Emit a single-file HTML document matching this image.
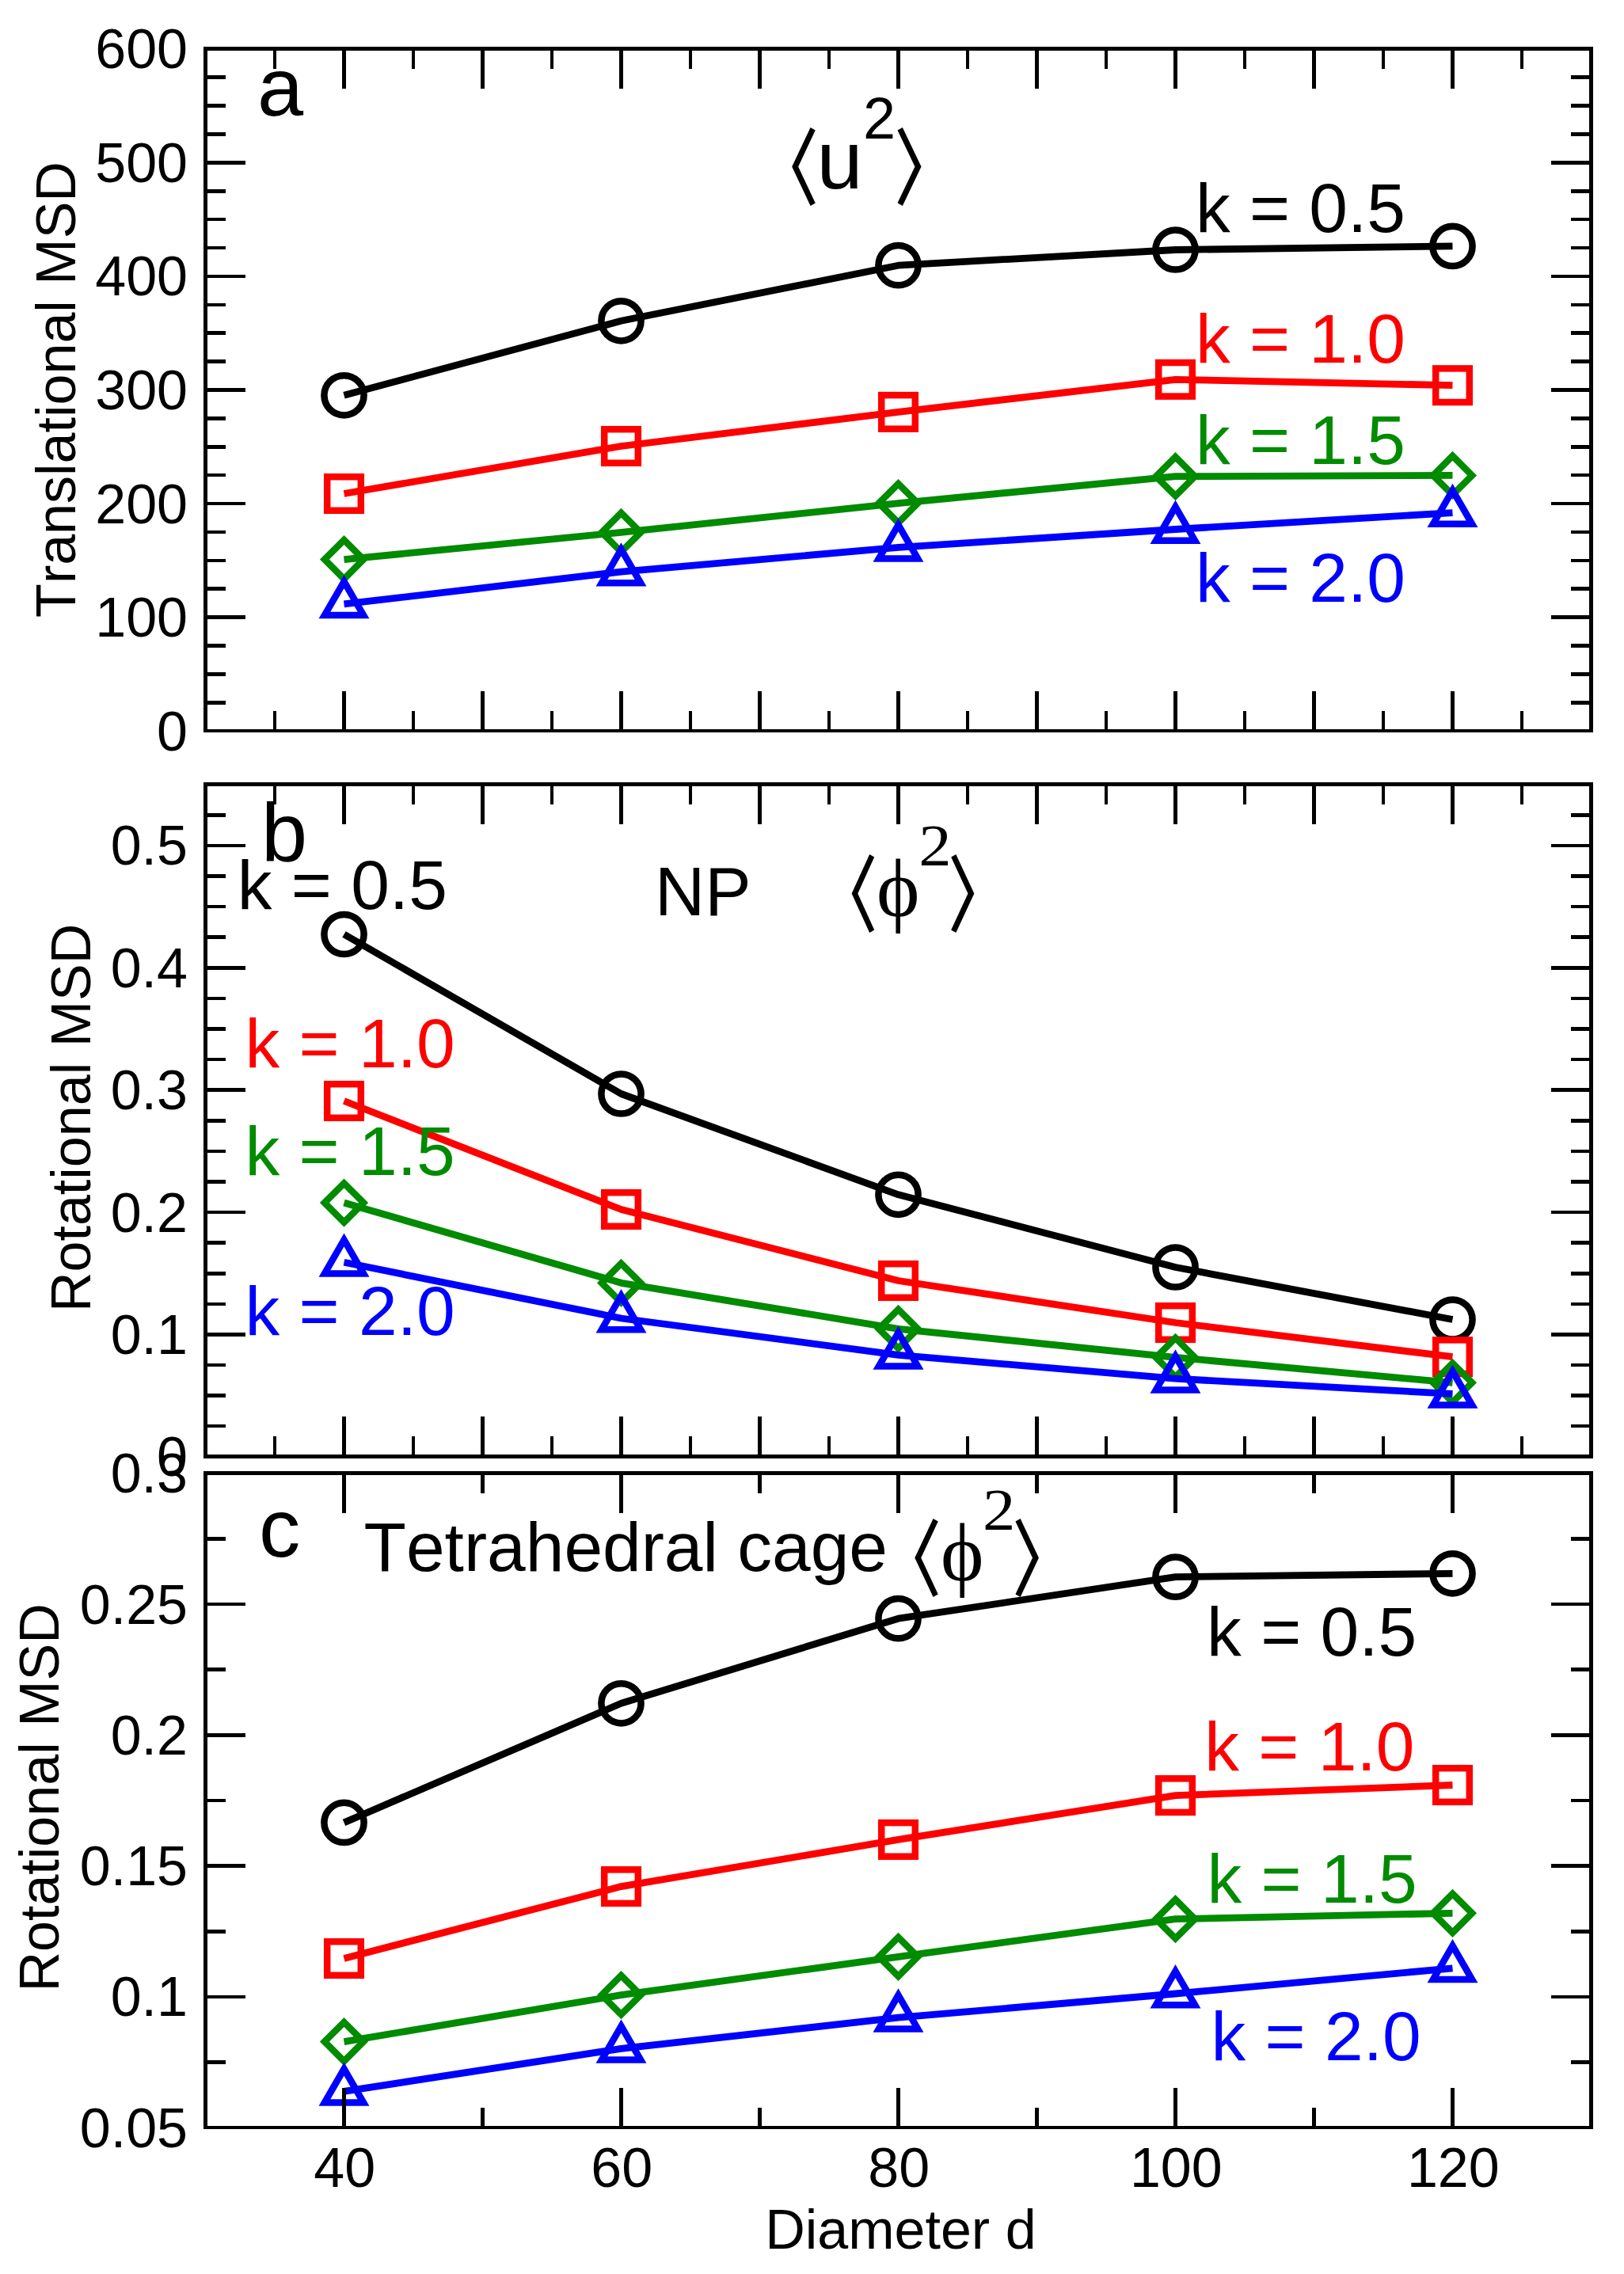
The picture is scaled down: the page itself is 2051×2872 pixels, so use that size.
<!DOCTYPE html>
<html lang="en"><head><meta charset="utf-8"><title>MSD versus diameter</title>
<style>html,body{margin:0;padding:0;background:#fff}svg{display:block}text{font-family:"Liberation Sans",sans-serif;font-kerning:none;font-variant-ligatures:none}.t{font-size:70px}.m{font-size:87.5px}.l{font-size:104.5px}.sy{font-family:"Liberation Serif","DejaVu Serif",serif}.br{font-family:"Noto Sans CJK SC","DejaVu Sans",sans-serif;font-weight:500}.ln{fill:none;stroke-width:8.8;stroke-linejoin:round;stroke-linecap:butt}.sm{fill:none;stroke-width:8.5;stroke-linejoin:miter;stroke-miterlimit:10}.ax{fill:#000;shape-rendering:crispEdges}</style></head><body>
<svg width="2051" height="2872" viewBox="0 0 2051 2872">
<rect width="2051" height="2872" fill="#fff"/>
<g id="panel-a">
<polyline points="434.5,499.3 784.5,405.3 1134.5,335.2 1484.5,315.5 1834.5,310.9" class="ln" stroke="#000"/>
<circle cx="434.5" cy="499.3" r="25.1" class="sm" stroke="#000"/>
<circle cx="784.5" cy="405.3" r="25.1" class="sm" stroke="#000"/>
<circle cx="1134.5" cy="335.2" r="25.1" class="sm" stroke="#000"/>
<circle cx="1484.5" cy="315.5" r="25.1" class="sm" stroke="#000"/>
<circle cx="1834.5" cy="310.9" r="25.1" class="sm" stroke="#000"/>
<polyline points="434.5,623.5 784.5,563.5 1134.5,520.4 1484.5,479.3 1834.5,486.7" class="ln" stroke="#f00"/>
<rect x="413.2" y="602.2" width="42.6" height="42.6" class="sm" stroke="#f00"/>
<rect x="763.2" y="542.2" width="42.6" height="42.6" class="sm" stroke="#f00"/>
<rect x="1113.2" y="499.1" width="42.6" height="42.6" class="sm" stroke="#f00"/>
<rect x="1463.2" y="458.0" width="42.6" height="42.6" class="sm" stroke="#f00"/>
<rect x="1813.2" y="465.4" width="42.6" height="42.6" class="sm" stroke="#f00"/>
<polyline points="434.5,706.6 784.5,672.4 1134.5,635.6 1484.5,601.7 1834.5,600.4" class="ln" stroke="#008b00"/>
<path d="M434.5 682.0L459.1 706.6L434.5 731.2L409.9 706.6Z" class="sm" stroke="#008b00"/>
<path d="M784.5 647.8L809.1 672.4L784.5 697.0L759.9 672.4Z" class="sm" stroke="#008b00"/>
<path d="M1134.5 611.0L1159.1 635.6L1134.5 660.2L1109.9 635.6Z" class="sm" stroke="#008b00"/>
<path d="M1484.5 577.1L1509.1 601.7L1484.5 626.3L1459.9 601.7Z" class="sm" stroke="#008b00"/>
<path d="M1834.5 575.8L1859.1 600.4L1834.5 625.0L1809.9 600.4Z" class="sm" stroke="#008b00"/>
<polyline points="434.5,762.9 784.5,722.1 1134.5,691.3 1484.5,668.5 1834.5,647.6" class="ln" stroke="#00f"/>
<path d="M434.5 734.5L459.1 777.1L409.9 777.1Z" class="sm" stroke="#00f"/>
<path d="M784.5 693.7L809.1 736.3L759.9 736.3Z" class="sm" stroke="#00f"/>
<path d="M1134.5 662.9L1159.1 705.5L1109.9 705.5Z" class="sm" stroke="#00f"/>
<path d="M1484.5 640.1L1509.1 682.7L1459.9 682.7Z" class="sm" stroke="#00f"/>
<path d="M1834.5 619.2L1859.1 661.8L1809.9 661.8Z" class="sm" stroke="#00f"/>
<g class="ax">
<rect x="257" y="59" width="1755" height="5"/>
<rect x="257" y="921" width="1755" height="4"/>
<rect x="257" y="59" width="5" height="866"/>
<rect x="2007" y="59" width="5" height="866"/>
<rect x="432.2" y="61.5" width="4.6" height="50.5"/>
<rect x="432.2" y="872.5" width="4.6" height="50.5"/>
<rect x="607.2" y="61.5" width="4.6" height="50.5"/>
<rect x="607.2" y="872.5" width="4.6" height="50.5"/>
<rect x="782.2" y="61.5" width="4.6" height="50.5"/>
<rect x="782.2" y="872.5" width="4.6" height="50.5"/>
<rect x="957.2" y="61.5" width="4.6" height="50.5"/>
<rect x="957.2" y="872.5" width="4.6" height="50.5"/>
<rect x="1132.2" y="61.5" width="4.6" height="50.5"/>
<rect x="1132.2" y="872.5" width="4.6" height="50.5"/>
<rect x="1307.2" y="61.5" width="4.6" height="50.5"/>
<rect x="1307.2" y="872.5" width="4.6" height="50.5"/>
<rect x="1482.2" y="61.5" width="4.6" height="50.5"/>
<rect x="1482.2" y="872.5" width="4.6" height="50.5"/>
<rect x="1657.2" y="61.5" width="4.6" height="50.5"/>
<rect x="1657.2" y="872.5" width="4.6" height="50.5"/>
<rect x="1832.2" y="61.5" width="4.6" height="50.5"/>
<rect x="1832.2" y="872.5" width="4.6" height="50.5"/>
<rect x="344.7" y="61.5" width="4.6" height="25.5"/>
<rect x="344.7" y="897.5" width="4.6" height="25.5"/>
<rect x="519.7" y="61.5" width="4.6" height="25.5"/>
<rect x="519.7" y="897.5" width="4.6" height="25.5"/>
<rect x="694.7" y="61.5" width="4.6" height="25.5"/>
<rect x="694.7" y="897.5" width="4.6" height="25.5"/>
<rect x="869.7" y="61.5" width="4.6" height="25.5"/>
<rect x="869.7" y="897.5" width="4.6" height="25.5"/>
<rect x="1044.7" y="61.5" width="4.6" height="25.5"/>
<rect x="1044.7" y="897.5" width="4.6" height="25.5"/>
<rect x="1219.7" y="61.5" width="4.6" height="25.5"/>
<rect x="1219.7" y="897.5" width="4.6" height="25.5"/>
<rect x="1394.7" y="61.5" width="4.6" height="25.5"/>
<rect x="1394.7" y="897.5" width="4.6" height="25.5"/>
<rect x="1569.7" y="61.5" width="4.6" height="25.5"/>
<rect x="1569.7" y="897.5" width="4.6" height="25.5"/>
<rect x="1744.7" y="61.5" width="4.6" height="25.5"/>
<rect x="1744.7" y="897.5" width="4.6" height="25.5"/>
<rect x="1919.7" y="61.5" width="4.6" height="25.5"/>
<rect x="1919.7" y="897.5" width="4.6" height="25.5"/>
<rect x="259.5" y="777.37" width="50.5" height="4.6"/>
<rect x="1959" y="777.37" width="50.5" height="4.6"/>
<rect x="259.5" y="633.78" width="50.5" height="4.6"/>
<rect x="1959" y="633.78" width="50.5" height="4.6"/>
<rect x="259.5" y="490.2" width="50.5" height="4.6"/>
<rect x="1959" y="490.2" width="50.5" height="4.6"/>
<rect x="259.5" y="346.62" width="50.5" height="4.6"/>
<rect x="1959" y="346.62" width="50.5" height="4.6"/>
<rect x="259.5" y="203.03" width="50.5" height="4.6"/>
<rect x="1959" y="203.03" width="50.5" height="4.6"/>
<rect x="259.5" y="885.05" width="25.5" height="4.6"/>
<rect x="1984" y="885.05" width="25.5" height="4.6"/>
<rect x="259.5" y="849.16" width="25.5" height="4.6"/>
<rect x="1984" y="849.16" width="25.5" height="4.6"/>
<rect x="259.5" y="813.26" width="25.5" height="4.6"/>
<rect x="1984" y="813.26" width="25.5" height="4.6"/>
<rect x="259.5" y="741.47" width="25.5" height="4.6"/>
<rect x="1984" y="741.47" width="25.5" height="4.6"/>
<rect x="259.5" y="705.58" width="25.5" height="4.6"/>
<rect x="1984" y="705.58" width="25.5" height="4.6"/>
<rect x="259.5" y="669.68" width="25.5" height="4.6"/>
<rect x="1984" y="669.68" width="25.5" height="4.6"/>
<rect x="259.5" y="597.89" width="25.5" height="4.6"/>
<rect x="1984" y="597.89" width="25.5" height="4.6"/>
<rect x="259.5" y="561.99" width="25.5" height="4.6"/>
<rect x="1984" y="561.99" width="25.5" height="4.6"/>
<rect x="259.5" y="526.1" width="25.5" height="4.6"/>
<rect x="1984" y="526.1" width="25.5" height="4.6"/>
<rect x="259.5" y="454.3" width="25.5" height="4.6"/>
<rect x="1984" y="454.3" width="25.5" height="4.6"/>
<rect x="259.5" y="418.41" width="25.5" height="4.6"/>
<rect x="1984" y="418.41" width="25.5" height="4.6"/>
<rect x="259.5" y="382.51" width="25.5" height="4.6"/>
<rect x="1984" y="382.51" width="25.5" height="4.6"/>
<rect x="259.5" y="310.72" width="25.5" height="4.6"/>
<rect x="1984" y="310.72" width="25.5" height="4.6"/>
<rect x="259.5" y="274.82" width="25.5" height="4.6"/>
<rect x="1984" y="274.82" width="25.5" height="4.6"/>
<rect x="259.5" y="238.93" width="25.5" height="4.6"/>
<rect x="1984" y="238.93" width="25.5" height="4.6"/>
<rect x="259.5" y="167.14" width="25.5" height="4.6"/>
<rect x="1984" y="167.14" width="25.5" height="4.6"/>
<rect x="259.5" y="131.24" width="25.5" height="4.6"/>
<rect x="1984" y="131.24" width="25.5" height="4.6"/>
<rect x="259.5" y="95.35" width="25.5" height="4.6"/>
<rect x="1984" y="95.35" width="25.5" height="4.6"/>
</g>
<text class="t" x="237" y="947.7" text-anchor="end">0</text>
<text class="t" x="237" y="804.1" text-anchor="end">100</text>
<text class="t" x="237" y="660.5" text-anchor="end">200</text>
<text class="t" x="237" y="517.0" text-anchor="end">300</text>
<text class="t" x="237" y="373.4" text-anchor="end">400</text>
<text class="t" x="237" y="229.8" text-anchor="end">500</text>
<text class="t" x="237" y="86.2" text-anchor="end">600</text>
</g>
<g id="panel-b">
<polyline points="434.5,1180.0 784.5,1381.5 1134.5,1508.8 1484.5,1600.5 1834.5,1666.5" class="ln" stroke="#000"/>
<circle cx="434.5" cy="1180.0" r="25.1" class="sm" stroke="#000"/>
<circle cx="784.5" cy="1381.5" r="25.1" class="sm" stroke="#000"/>
<circle cx="1134.5" cy="1508.8" r="25.1" class="sm" stroke="#000"/>
<circle cx="1484.5" cy="1600.5" r="25.1" class="sm" stroke="#000"/>
<circle cx="1834.5" cy="1666.5" r="25.1" class="sm" stroke="#000"/>
<polyline points="434.5,1390.5 784.5,1527.5 1134.5,1617.5 1484.5,1670.5 1834.5,1713.7" class="ln" stroke="#f00"/>
<rect x="413.2" y="1369.2" width="42.6" height="42.6" class="sm" stroke="#f00"/>
<rect x="763.2" y="1506.2" width="42.6" height="42.6" class="sm" stroke="#f00"/>
<rect x="1113.2" y="1596.2" width="42.6" height="42.6" class="sm" stroke="#f00"/>
<rect x="1463.2" y="1649.2" width="42.6" height="42.6" class="sm" stroke="#f00"/>
<rect x="1813.2" y="1692.4" width="42.6" height="42.6" class="sm" stroke="#f00"/>
<polyline points="434.5,1519.1 784.5,1620.3 1134.5,1678.3 1484.5,1714.4 1834.5,1746.3" class="ln" stroke="#008b00"/>
<path d="M434.5 1494.5L459.1 1519.1L434.5 1543.7L409.9 1519.1Z" class="sm" stroke="#008b00"/>
<path d="M784.5 1595.7L809.1 1620.3L784.5 1644.9L759.9 1620.3Z" class="sm" stroke="#008b00"/>
<path d="M1134.5 1653.7L1159.1 1678.3L1134.5 1702.9L1109.9 1678.3Z" class="sm" stroke="#008b00"/>
<path d="M1484.5 1689.8L1509.1 1714.4L1484.5 1739.0L1459.9 1714.4Z" class="sm" stroke="#008b00"/>
<path d="M1834.5 1721.7L1859.1 1746.3L1834.5 1770.9L1809.9 1746.3Z" class="sm" stroke="#008b00"/>
<polyline points="434.5,1594.3 784.5,1665.0 1134.5,1711.3 1484.5,1741.2 1834.5,1760.4" class="ln" stroke="#00f"/>
<path d="M434.5 1565.9L459.1 1608.5L409.9 1608.5Z" class="sm" stroke="#00f"/>
<path d="M784.5 1636.6L809.1 1679.2L759.9 1679.2Z" class="sm" stroke="#00f"/>
<path d="M1134.5 1682.9L1159.1 1725.5L1109.9 1725.5Z" class="sm" stroke="#00f"/>
<path d="M1484.5 1712.8L1509.1 1755.4L1459.9 1755.4Z" class="sm" stroke="#00f"/>
<path d="M1834.5 1732.0L1859.1 1774.6L1809.9 1774.6Z" class="sm" stroke="#00f"/>
<g class="ax">
<rect x="257" y="988" width="1755" height="5"/>
<rect x="257" y="1837" width="1755" height="5"/>
<rect x="257" y="988" width="5" height="854"/>
<rect x="2007" y="988" width="5" height="854"/>
<rect x="432.2" y="990.5" width="4.6" height="50.5"/>
<rect x="432.2" y="1789" width="4.6" height="50.5"/>
<rect x="607.2" y="990.5" width="4.6" height="50.5"/>
<rect x="607.2" y="1789" width="4.6" height="50.5"/>
<rect x="782.2" y="990.5" width="4.6" height="50.5"/>
<rect x="782.2" y="1789" width="4.6" height="50.5"/>
<rect x="957.2" y="990.5" width="4.6" height="50.5"/>
<rect x="957.2" y="1789" width="4.6" height="50.5"/>
<rect x="1132.2" y="990.5" width="4.6" height="50.5"/>
<rect x="1132.2" y="1789" width="4.6" height="50.5"/>
<rect x="1307.2" y="990.5" width="4.6" height="50.5"/>
<rect x="1307.2" y="1789" width="4.6" height="50.5"/>
<rect x="1482.2" y="990.5" width="4.6" height="50.5"/>
<rect x="1482.2" y="1789" width="4.6" height="50.5"/>
<rect x="1657.2" y="990.5" width="4.6" height="50.5"/>
<rect x="1657.2" y="1789" width="4.6" height="50.5"/>
<rect x="1832.2" y="990.5" width="4.6" height="50.5"/>
<rect x="1832.2" y="1789" width="4.6" height="50.5"/>
<rect x="344.7" y="990.5" width="4.6" height="25.5"/>
<rect x="344.7" y="1814" width="4.6" height="25.5"/>
<rect x="519.7" y="990.5" width="4.6" height="25.5"/>
<rect x="519.7" y="1814" width="4.6" height="25.5"/>
<rect x="694.7" y="990.5" width="4.6" height="25.5"/>
<rect x="694.7" y="1814" width="4.6" height="25.5"/>
<rect x="869.7" y="990.5" width="4.6" height="25.5"/>
<rect x="869.7" y="1814" width="4.6" height="25.5"/>
<rect x="1044.7" y="990.5" width="4.6" height="25.5"/>
<rect x="1044.7" y="1814" width="4.6" height="25.5"/>
<rect x="1219.7" y="990.5" width="4.6" height="25.5"/>
<rect x="1219.7" y="1814" width="4.6" height="25.5"/>
<rect x="1394.7" y="990.5" width="4.6" height="25.5"/>
<rect x="1394.7" y="1814" width="4.6" height="25.5"/>
<rect x="1569.7" y="990.5" width="4.6" height="25.5"/>
<rect x="1569.7" y="1814" width="4.6" height="25.5"/>
<rect x="1744.7" y="990.5" width="4.6" height="25.5"/>
<rect x="1744.7" y="1814" width="4.6" height="25.5"/>
<rect x="1919.7" y="990.5" width="4.6" height="25.5"/>
<rect x="1919.7" y="1814" width="4.6" height="25.5"/>
<rect x="259.5" y="1683.09" width="50.5" height="4.6"/>
<rect x="1959" y="1683.09" width="50.5" height="4.6"/>
<rect x="259.5" y="1528.72" width="50.5" height="4.6"/>
<rect x="1959" y="1528.72" width="50.5" height="4.6"/>
<rect x="259.5" y="1374.36" width="50.5" height="4.6"/>
<rect x="1959" y="1374.36" width="50.5" height="4.6"/>
<rect x="259.5" y="1220" width="50.5" height="4.6"/>
<rect x="1959" y="1220" width="50.5" height="4.6"/>
<rect x="259.5" y="1065.63" width="50.5" height="4.6"/>
<rect x="1959" y="1065.63" width="50.5" height="4.6"/>
<rect x="259.5" y="1798.86" width="25.5" height="4.6"/>
<rect x="1984" y="1798.86" width="25.5" height="4.6"/>
<rect x="259.5" y="1760.27" width="25.5" height="4.6"/>
<rect x="1984" y="1760.27" width="25.5" height="4.6"/>
<rect x="259.5" y="1721.68" width="25.5" height="4.6"/>
<rect x="1984" y="1721.68" width="25.5" height="4.6"/>
<rect x="259.5" y="1644.5" width="25.5" height="4.6"/>
<rect x="1984" y="1644.5" width="25.5" height="4.6"/>
<rect x="259.5" y="1605.9" width="25.5" height="4.6"/>
<rect x="1984" y="1605.9" width="25.5" height="4.6"/>
<rect x="259.5" y="1567.31" width="25.5" height="4.6"/>
<rect x="1984" y="1567.31" width="25.5" height="4.6"/>
<rect x="259.5" y="1490.13" width="25.5" height="4.6"/>
<rect x="1984" y="1490.13" width="25.5" height="4.6"/>
<rect x="259.5" y="1451.54" width="25.5" height="4.6"/>
<rect x="1984" y="1451.54" width="25.5" height="4.6"/>
<rect x="259.5" y="1412.95" width="25.5" height="4.6"/>
<rect x="1984" y="1412.95" width="25.5" height="4.6"/>
<rect x="259.5" y="1335.77" width="25.5" height="4.6"/>
<rect x="1984" y="1335.77" width="25.5" height="4.6"/>
<rect x="259.5" y="1297.18" width="25.5" height="4.6"/>
<rect x="1984" y="1297.18" width="25.5" height="4.6"/>
<rect x="259.5" y="1258.59" width="25.5" height="4.6"/>
<rect x="1984" y="1258.59" width="25.5" height="4.6"/>
<rect x="259.5" y="1181.4" width="25.5" height="4.6"/>
<rect x="1984" y="1181.4" width="25.5" height="4.6"/>
<rect x="259.5" y="1142.81" width="25.5" height="4.6"/>
<rect x="1984" y="1142.81" width="25.5" height="4.6"/>
<rect x="259.5" y="1104.22" width="25.5" height="4.6"/>
<rect x="1984" y="1104.22" width="25.5" height="4.6"/>
<rect x="259.5" y="1027.04" width="25.5" height="4.6"/>
<rect x="1984" y="1027.04" width="25.5" height="4.6"/>
</g>
<text class="t" x="237" y="1864.2" text-anchor="end">0</text>
<text class="t" x="237" y="1709.8" text-anchor="end">0.1</text>
<text class="t" x="237" y="1555.5" text-anchor="end">0.2</text>
<text class="t" x="237" y="1401.1" text-anchor="end">0.3</text>
<text class="t" x="237" y="1246.7" text-anchor="end">0.4</text>
<text class="t" x="237" y="1092.4" text-anchor="end">0.5</text>
</g>
<g id="panel-c">
<polyline points="434.5,2301.9 784.5,2151.3 1134.5,2044.2 1484.5,1991.7 1834.5,1987.3" class="ln" stroke="#000"/>
<circle cx="434.5" cy="2301.9" r="25.1" class="sm" stroke="#000"/>
<circle cx="784.5" cy="2151.3" r="25.1" class="sm" stroke="#000"/>
<circle cx="1134.5" cy="2044.2" r="25.1" class="sm" stroke="#000"/>
<circle cx="1484.5" cy="1991.7" r="25.1" class="sm" stroke="#000"/>
<circle cx="1834.5" cy="1987.3" r="25.1" class="sm" stroke="#000"/>
<polyline points="434.5,2473.5 784.5,2382.6 1134.5,2323.4 1484.5,2267.6 1834.5,2254.5" class="ln" stroke="#f00"/>
<rect x="413.2" y="2452.2" width="42.6" height="42.6" class="sm" stroke="#f00"/>
<rect x="763.2" y="2361.3" width="42.6" height="42.6" class="sm" stroke="#f00"/>
<rect x="1113.2" y="2302.1" width="42.6" height="42.6" class="sm" stroke="#f00"/>
<rect x="1463.2" y="2246.3" width="42.6" height="42.6" class="sm" stroke="#f00"/>
<rect x="1813.2" y="2233.2" width="42.6" height="42.6" class="sm" stroke="#f00"/>
<polyline points="434.5,2578.6 784.5,2519.7 1134.5,2471.3 1484.5,2423.7 1834.5,2416.3" class="ln" stroke="#008b00"/>
<path d="M434.5 2554.0L459.1 2578.6L434.5 2603.2L409.9 2578.6Z" class="sm" stroke="#008b00"/>
<path d="M784.5 2495.1L809.1 2519.7L784.5 2544.3L759.9 2519.7Z" class="sm" stroke="#008b00"/>
<path d="M1134.5 2446.7L1159.1 2471.3L1134.5 2495.9L1109.9 2471.3Z" class="sm" stroke="#008b00"/>
<path d="M1484.5 2399.1L1509.1 2423.7L1484.5 2448.3L1459.9 2423.7Z" class="sm" stroke="#008b00"/>
<path d="M1834.5 2391.7L1859.1 2416.3L1834.5 2440.9L1809.9 2416.3Z" class="sm" stroke="#008b00"/>
<polyline points="434.5,2641.4 784.5,2587.4 1134.5,2548.2 1484.5,2518.0 1834.5,2485.8" class="ln" stroke="#00f"/>
<path d="M434.5 2613.0L459.1 2655.6L409.9 2655.6Z" class="sm" stroke="#00f"/>
<path d="M784.5 2559.0L809.1 2601.6L759.9 2601.6Z" class="sm" stroke="#00f"/>
<path d="M1134.5 2519.8L1159.1 2562.4L1109.9 2562.4Z" class="sm" stroke="#00f"/>
<path d="M1484.5 2489.6L1509.1 2532.2L1459.9 2532.2Z" class="sm" stroke="#00f"/>
<path d="M1834.5 2457.4L1859.1 2500.0L1809.9 2500.0Z" class="sm" stroke="#00f"/>
<g class="ax">
<rect x="257" y="1858" width="1755" height="5"/>
<rect x="257" y="2685" width="1755" height="4"/>
<rect x="257" y="1858" width="5" height="831"/>
<rect x="2007" y="1858" width="5" height="831"/>
<rect x="432.2" y="1860.5" width="4.6" height="50.5"/>
<rect x="432.2" y="2636.5" width="4.6" height="50.5"/>
<rect x="782.2" y="1860.5" width="4.6" height="50.5"/>
<rect x="782.2" y="2636.5" width="4.6" height="50.5"/>
<rect x="1132.2" y="1860.5" width="4.6" height="50.5"/>
<rect x="1132.2" y="2636.5" width="4.6" height="50.5"/>
<rect x="1482.2" y="1860.5" width="4.6" height="50.5"/>
<rect x="1482.2" y="2636.5" width="4.6" height="50.5"/>
<rect x="1832.2" y="1860.5" width="4.6" height="50.5"/>
<rect x="1832.2" y="2636.5" width="4.6" height="50.5"/>
<rect x="607.2" y="1860.5" width="4.6" height="25.5"/>
<rect x="607.2" y="2661.5" width="4.6" height="25.5"/>
<rect x="957.2" y="1860.5" width="4.6" height="25.5"/>
<rect x="957.2" y="2661.5" width="4.6" height="25.5"/>
<rect x="1307.2" y="1860.5" width="4.6" height="25.5"/>
<rect x="1307.2" y="2661.5" width="4.6" height="25.5"/>
<rect x="1657.2" y="1860.5" width="4.6" height="25.5"/>
<rect x="1657.2" y="2661.5" width="4.6" height="25.5"/>
<rect x="259.5" y="2519.65" width="50.5" height="4.6"/>
<rect x="1959" y="2519.65" width="50.5" height="4.6"/>
<rect x="259.5" y="2354.35" width="50.5" height="4.6"/>
<rect x="1959" y="2354.35" width="50.5" height="4.6"/>
<rect x="259.5" y="2189.05" width="50.5" height="4.6"/>
<rect x="1959" y="2189.05" width="50.5" height="4.6"/>
<rect x="259.5" y="2023.75" width="50.5" height="4.6"/>
<rect x="1959" y="2023.75" width="50.5" height="4.6"/>
<rect x="259.5" y="2602.3" width="25.5" height="4.6"/>
<rect x="1984" y="2602.3" width="25.5" height="4.6"/>
<rect x="259.5" y="2437" width="25.5" height="4.6"/>
<rect x="1984" y="2437" width="25.5" height="4.6"/>
<rect x="259.5" y="2271.7" width="25.5" height="4.6"/>
<rect x="1984" y="2271.7" width="25.5" height="4.6"/>
<rect x="259.5" y="2106.4" width="25.5" height="4.6"/>
<rect x="1984" y="2106.4" width="25.5" height="4.6"/>
<rect x="259.5" y="1941.1" width="25.5" height="4.6"/>
<rect x="1984" y="1941.1" width="25.5" height="4.6"/>
</g>
<text class="t" x="237" y="2711.7" text-anchor="end">0.05</text>
<text class="t" x="237" y="2546.4" text-anchor="end">0.1</text>
<text class="t" x="237" y="2381.1" text-anchor="end">0.15</text>
<text class="t" x="237" y="2215.8" text-anchor="end">0.2</text>
<text class="t" x="237" y="2050.5" text-anchor="end">0.25</text>
<text class="t" x="237" y="1885.2" text-anchor="end">0.3</text>
</g>
<text class="t" x="435.3" y="2762.3" text-anchor="middle">40</text>
<text class="t" x="785.3" y="2762.3" text-anchor="middle">60</text>
<text class="t" x="1135.3" y="2762.3" text-anchor="middle">80</text>
<text class="t" x="1485.3" y="2762.3" text-anchor="middle">100</text>
<text class="t" x="1835.3" y="2762.3" text-anchor="middle">120</text>
<text class="t" x="1137.4" y="2840.1" text-anchor="middle">Diameter d</text>
<text class="t" transform="translate(95.0 492.0) rotate(-90)" text-anchor="middle">Translational MSD</text>
<text class="t" transform="translate(113.5 1411.9) rotate(-90)" text-anchor="middle">Rotational MSD</text>
<text class="t" transform="translate(74.4 2270.4) rotate(-90)" text-anchor="middle">Rotational MSD</text>
<text class="l" x="325.0" y="146.2">a</text>
<text class="m" x="1509.9" y="293.3" fill="#000">k = 0.5</text>
<text class="m" x="1509.9" y="458.3" fill="#f00">k = 1.0</text>
<text class="m" x="1509.9" y="586.0" fill="#008b00">k = 1.5</text>
<text class="m" x="1509.9" y="760.0" fill="#00f">k = 2.0</text>
<text class="l" x="330.0" y="1086.8">b</text>
<text class="m" x="299.7" y="1148.3" fill="#000">k = 0.5</text>
<text class="m" x="309.5" y="1348.4" fill="#f00">k = 1.0</text>
<text class="m" x="309.5" y="1483.7" fill="#008b00">k = 1.5</text>
<text class="m" x="309.5" y="1685.6" fill="#00f">k = 2.0</text>
<text class="m" x="827.0" y="1156.4">NP</text>
<text class="l" x="327.0" y="1965.5">c</text>
<text class="m" x="459.5" y="1984.2">Tetrahedral cage</text>
<text class="m" x="1524.1" y="2090.5" fill="#000">k = 0.5</text>
<text class="m" x="1521.3" y="2236.4" fill="#f00">k = 1.0</text>
<text class="m" x="1524.5" y="2403.3" fill="#008b00">k = 1.5</text>
<text class="m" x="1529.5" y="2602.3" fill="#00f">k = 2.0</text>
<text class="br" font-size="100" transform="matrix(0.7978 0 0 1.0577 954.24 249.59)">〈</text>
<text class="l" x="1031.5" y="237.9">u</text>
<text x="1090" y="175.1" font-size="73.9">2</text>
<text class="br" font-size="100" transform="matrix(0.8086 0 0 1.0577 1129.21 249.59)">〉</text>
<text class="br" font-size="100" transform="matrix(0.7709 0 0 1.0588 1031.20 1167.68)">〈</text>
<text class="sy" x="1106.9" y="1156.6" font-size="103.5">ϕ</text>
<text class="sy" transform="translate(1160.3 1093) scale(1.12 1)" font-size="73.9">2</text>
<text class="br" font-size="100" transform="matrix(0.7871 0 0 1.0588 1197.03 1167.68)">〉</text>
<text class="br" font-size="100" transform="matrix(0.7951 0 0 1.0577 1109.50 2006.69)">〈</text>
<text class="sy" x="1187.9" y="1995.9" font-size="103.5">ϕ</text>
<text class="sy" transform="translate(1241 1932.2) scale(1.12 1)" font-size="73.9">2</text>
<text class="br" font-size="100" transform="matrix(0.7951 0 0 1.0577 1278.19 2006.69)">〉</text>
</svg></body></html>
